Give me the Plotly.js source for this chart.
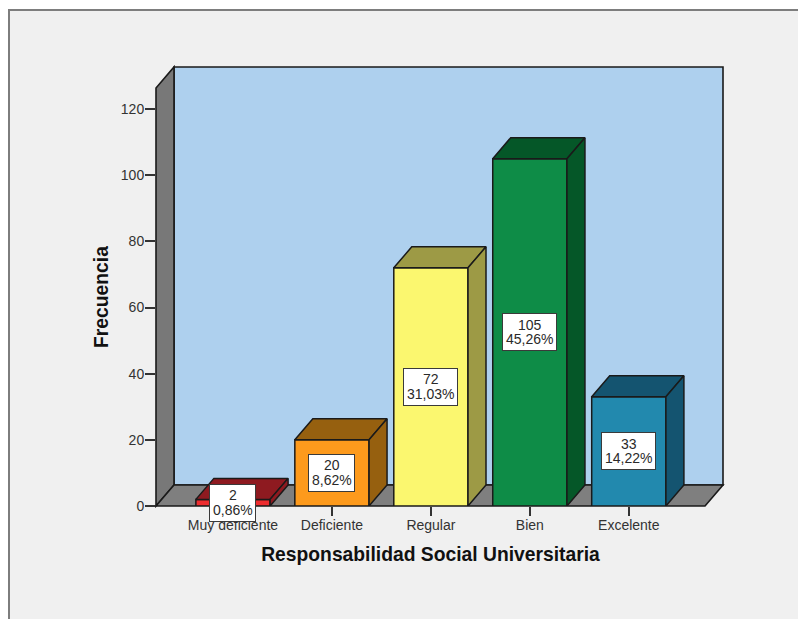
<!DOCTYPE html>
<html><head><meta charset="utf-8">
<script src="https://cdn.plot.ly/plotly-3.0.1.min.js"></script>
<style>html,body{margin:0;padding:0;background:#fff}#c{width:798px;height:619px}</style>
</head><body><div id="c"></div>
<script>
const categories = ["Muy deficiente","Deficiente","Regular","Bien","Excelente"];
const counts = [2,20,72,105,33];
const percents = ["0,86%","8,62%","31,03%","45,26%","14,22%"];
const frontColors = ["#ee2d2f","#fd9a1c","#fbf76f","#0e8c47","#2289ae"];
const depthColors = ["#8e1a20","#96600f","#9d9a45","#055728","#145470"];
const yTicks = [0,20,40,60,80,100,120];

const W=798,H=619,L=156,R=705,T=88,B=506;
const pw=R-L, ph=B-T;
const xMin=-0.778, xMax=4.77, yMax=ph/3.308;
const dxU=18/((R-L)/(xMax-xMin)), dyU=21/3.308, half=0.375;
const dxP=18/pw, dyP=21/ph;
const ink="#1a1a1a";
const FF="Liberation Sans, Arial, sans-serif";

const traces=[{
  type:"bar", x:categories.map((_,i)=>i), y:counts, width:half*2,
  marker:{color:frontColors,line:{color:ink,width:1.5}}, hoverinfo:"x+y", showlegend:false
}];
counts.forEach((v,i)=>{
  const a=i-half,b=i+half;
  traces.push({type:"scatter",mode:"lines",fill:"toself",fillcolor:depthColors[i],
    line:{color:ink,width:1.5},hoverinfo:"skip",showlegend:false,cliponaxis:false,
    x:[a,b,b+dxU,a+dxU,a],y:[v,v,v+dyU,v+dyU,v]});
  traces.push({type:"scatter",mode:"lines",fill:"toself",fillcolor:depthColors[i],
    line:{color:ink,width:1.5},hoverinfo:"skip",showlegend:false,cliponaxis:false,
    x:[b,b+dxU,b+dxU,b,b],y:[0,dyU,v+dyU,v,0]});
});

const poly=(pts,fill)=>({type:"path",xref:"paper",yref:"paper",layer:"below",
  path:"M"+pts.map(p=>p.join(",")).join("L")+"Z",fillcolor:fill,line:{color:ink,width:1.6}});
const shapes=[
  {type:"rect",xref:"paper",yref:"paper",layer:"below",
   x0:(9-L)/pw,x1:(W+20-L)/pw,y0:(B-H-20)/ph,y1:(B-10)/ph,
   fillcolor:"#f0f0f0",line:{color:"#7d7d7d",width:2}},
  poly([[dxP,dyP],[1+dxP,dyP],[1+dxP,1+dyP],[dxP,1+dyP]],"#aed0ee"),
  poly([[0,0],[dxP,dyP],[dxP,1+dyP],[0,1]],"#787878"),
  poly([[0,0],[1,0],[1+dxP,dyP],[dxP,dyP]],"#7f7f7f")
];

const labelFont={family:FF,size:14,color:"#2a2a2a"};
const annotations=[];
counts.forEach((v,i)=>{
  annotations.push({xref:"x",yref:"y",x:i,y:v/2,text:" ",showarrow:false,
    width:percents[i].length===5?45:53,height:36,
    bgcolor:"#ffffff",bordercolor:"#3a3a3a",borderwidth:1,borderpad:0,font:labelFont});
  annotations.push({xref:"x",yref:"y",x:i,y:v/2,yshift:7.5,text:String(v),showarrow:false,font:labelFont});
  annotations.push({xref:"x",yref:"y",x:i,y:v/2,yshift:-7,text:percents[i],showarrow:false,font:labelFont});
});

Plotly.newPlot("c",traces,{
  width:W,height:H,autosize:false,
  margin:{l:L,r:W-R,t:T,b:H-B,pad:0},
  paper_bgcolor:"#ffffff",plot_bgcolor:"rgba(0,0,0,0)",
  font:{family:FF,color:"#333333",size:14},
  showlegend:false,bargap:0.25,shapes,annotations,
  xaxis:{type:"linear",range:[xMin,xMax],tickmode:"array",tickvals:categories.map((_,i)=>i),ticktext:categories,
    ticks:"outside",ticklen:9,tickwidth:1.5,tickcolor:"#333333",showgrid:false,zeroline:false,showline:false,
    ticklabelstandoff:-3,tickfont:{size:14,color:"#333333"},
    title:{text:"Responsabilidad Social Universitaria",font:{size:19.3,color:"#111111",family:FF,weight:"bold"},standoff:15}},
  yaxis:{type:"linear",range:[0,yMax],tickmode:"array",tickvals:yTicks,
    ticks:"outside",ticklen:10,tickwidth:1.5,tickcolor:"#333333",showgrid:false,zeroline:false,showline:false,
    ticklabelstandoff:-2,tickfont:{size:14,color:"#333333"},
    title:{text:"Frecuencia",font:{size:19.3,color:"#111111",family:FF,weight:"bold"},standoff:7}}
},{displayModeBar:false});
</script></body></html>
